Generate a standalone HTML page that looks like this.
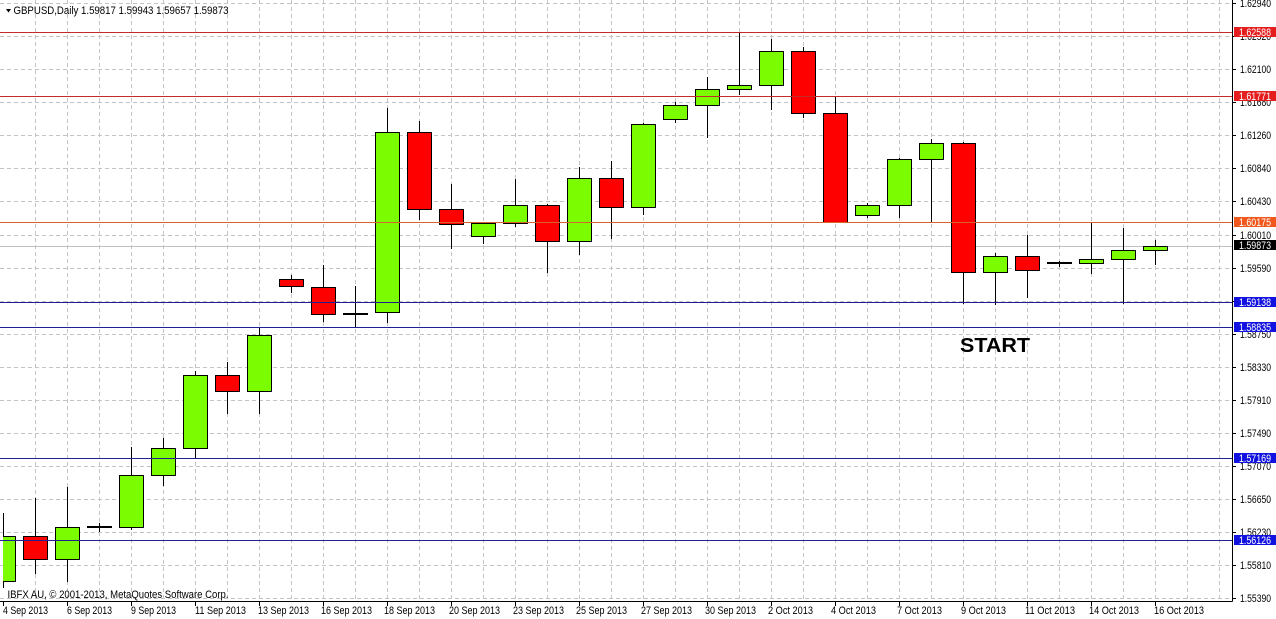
<!DOCTYPE html>
<html><head><meta charset="utf-8"><style>
html,body{margin:0;padding:0;background:#fff;width:1276px;height:619px;overflow:hidden}
svg{display:block}
text{font-family:"Liberation Sans",Arial,sans-serif;font-size:11px;fill:#000}
</style></head><body>
<svg width="1276" height="619" viewBox="0 0 1276 619" xmlns="http://www.w3.org/2000/svg">
<defs><clipPath id="cl"><rect x="3" y="0" width="1229" height="601"/></clipPath></defs>
<rect width="1276" height="619" fill="#fff"/>
<!-- grid -->
<g stroke="#c4c4c4" stroke-width="1" stroke-dasharray="4,3" fill="none">
<path d="M0 3.5H1232M0 36.5H1232M0 69.5H1232M0 102.5H1232M0 135.5H1232M0 168.5H1232M0 201.5H1232M0 235.5H1232M0 268.5H1232M0 301.5H1232M0 334.5H1232M0 367.5H1232M0 400.5H1232M0 433.5H1232M0 466.5H1232M0 499.5H1232M0 532.5H1232M0 565.5H1232M0 598.5H1232"/>
<path d="M35.5 0V601M67.5 0V601M99.5 0V601M131.5 0V601M163.5 0V601M195.5 0V601M227.5 0V601M259.5 0V601M291.5 0V601M323.5 0V601M355.5 0V601M387.5 0V601M419.5 0V601M451.5 0V601M483.5 0V601M515.5 0V601M547.5 0V601M579.5 0V601M611.5 0V601M643.5 0V601M675.5 0V601M707.5 0V601M739.5 0V601M771.5 0V601M803.5 0V601M835.5 0V601M867.5 0V601M899.5 0V601M931.5 0V601M963.5 0V601M995.5 0V601M1027.5 0V601M1059.5 0V601M1091.5 0V601M1123.5 0V601M1155.5 0V601M1187.5 0V601M1219.5 0V601"/>
</g>
<!-- current price line -->
<line x1="0" y1="246.5" x2="1232" y2="246.5" stroke="#c0c0c0" stroke-width="1"/>
<!-- candles -->
<g clip-path="url(#cl)" stroke="#000" stroke-width="1">
<g fill="none">
<path d="M3.5 513V588M35.5 498V574M67.5 487V582M99.5 523V532M131.5 447V530M163.5 438V486M195.5 371V459M227.5 362V414M259.5 327V414M291.5 275V293M323.5 265V322M355.5 286V328M387.5 108V323M419.5 121V220M451.5 184V249M483.5 223V244M515.5 179V227M547.5 204V273M579.5 167V255M611.5 161V239M643.5 123V215M675.5 102V123M707.5 77V138M739.5 32V95M771.5 39V110M803.5 47V118M835.5 97V223M867.5 203V218M899.5 158V218M931.5 139V223M963.5 142V304M995.5 253V305M1027.5 235V298M1059.5 261V267M1091.5 222V274M1123.5 228V304M1155.5 240V265"/>
</g>
<g fill="#7cfc00">
<rect x="-8.5" y="536.5" width="24" height="45"/>
<rect x="55.5" y="527.5" width="24" height="32"/>
<rect x="119.5" y="475.5" width="24" height="52"/>
<rect x="151.5" y="448.5" width="24" height="27"/>
<rect x="183.5" y="375.5" width="24" height="73"/>
<rect x="247.5" y="335.5" width="24" height="56"/>
<rect x="375.5" y="132.5" width="24" height="180"/>
<rect x="471.5" y="223.5" width="24" height="13"/>
<rect x="503.5" y="205.5" width="24" height="18"/>
<rect x="567.5" y="178.5" width="24" height="63"/>
<rect x="631.5" y="124.5" width="24" height="83"/>
<rect x="663.5" y="105.5" width="24" height="14"/>
<rect x="695.5" y="89.5" width="24" height="16"/>
<rect x="727.5" y="85.5" width="24" height="4"/>
<rect x="759.5" y="51.5" width="24" height="34"/>
<rect x="855.5" y="205.5" width="24" height="10"/>
<rect x="887.5" y="159.5" width="24" height="46"/>
<rect x="919.5" y="143.5" width="24" height="16"/>
<rect x="983.5" y="256.5" width="24" height="16"/>
<rect x="1079.5" y="259.5" width="24" height="4"/>
<rect x="1111.5" y="250.5" width="24" height="9"/>
<rect x="1143.5" y="246.5" width="24" height="4"/>
</g>
<g fill="#ff0000">
<rect x="23.5" y="536.5" width="24" height="23"/>
<rect x="215.5" y="375.5" width="24" height="16"/>
<rect x="279.5" y="279.5" width="24" height="7"/>
<rect x="311.5" y="287.5" width="24" height="27"/>
<rect x="407.5" y="132.5" width="24" height="77"/>
<rect x="439.5" y="209.5" width="24" height="15"/>
<rect x="535.5" y="205.5" width="24" height="36"/>
<rect x="599.5" y="178.5" width="24" height="29"/>
<rect x="791.5" y="51.5" width="24" height="62"/>
<rect x="823.5" y="113.5" width="24" height="109"/>
<rect x="951.5" y="143.5" width="24" height="129"/>
<rect x="1015.5" y="256.5" width="24" height="14"/>
</g>
<g fill="none">
<rect x="87.5" y="526.5" width="24" height="1"/>
<rect x="343.5" y="313.5" width="24" height="1"/>
<rect x="1047.5" y="262.5" width="24" height="1"/>
</g>
</g>
<!-- horizontal lines -->
<g stroke-width="1">
<line x1="0" y1="32.5" x2="1232" y2="32.5" stroke="#c42a2a"/>
<line x1="0" y1="96.5" x2="1232" y2="96.5" stroke="#c42a2a"/>
<line x1="0" y1="222.5" x2="1232" y2="222.5" stroke="#d8622a"/>
<line x1="0" y1="302.5" x2="1232" y2="302.5" stroke="#20208e"/>
<line x1="0" y1="327.5" x2="1232" y2="327.5" stroke="#20208e"/>
<line x1="0" y1="458.5" x2="1232" y2="458.5" stroke="#20208e"/>
<line x1="0" y1="540.5" x2="1232" y2="540.5" stroke="#20208e"/>
</g>
<!-- axes -->
<g stroke="#000" stroke-width="1" fill="none">
<path d="M1232.5 0V601.5M0 601.5H1232.5"/>
<path d="M1233 3.5H1236M1233 36.5H1236M1233 69.5H1236M1233 102.5H1236M1233 135.5H1236M1233 168.5H1236M1233 201.5H1236M1233 235.5H1236M1233 268.5H1236M1233 301.5H1236M1233 334.5H1236M1233 367.5H1236M1233 400.5H1236M1233 433.5H1236M1233 466.5H1236M1233 499.5H1236M1233 532.5H1236M1233 565.5H1236M1233 598.5H1236"/>
<path d="M3.5 602V606M67.5 602V606M131.5 602V606M195.5 602V606M259.5 602V606M323.5 602V606M387.5 602V606M451.5 602V606M515.5 602V606M579.5 602V606M643.5 602V606M707.5 602V606M771.5 602V606M835.5 602V606M899.5 602V606M963.5 602V606M1027.5 602V606M1091.5 602V606M1155.5 602V606"/>
</g>
<!-- price tick labels -->
<g>
<text x="1240" y="7" textLength="31" lengthAdjust="spacingAndGlyphs">1.62940</text>
<text x="1240" y="40" textLength="31" lengthAdjust="spacingAndGlyphs">1.62520</text>
<text x="1240" y="73" textLength="31" lengthAdjust="spacingAndGlyphs">1.62100</text>
<text x="1240" y="106" textLength="31" lengthAdjust="spacingAndGlyphs">1.61680</text>
<text x="1240" y="139" textLength="31" lengthAdjust="spacingAndGlyphs">1.61260</text>
<text x="1240" y="172" textLength="31" lengthAdjust="spacingAndGlyphs">1.60840</text>
<text x="1240" y="205" textLength="31" lengthAdjust="spacingAndGlyphs">1.60430</text>
<text x="1240" y="239" textLength="31" lengthAdjust="spacingAndGlyphs">1.60010</text>
<text x="1240" y="272" textLength="31" lengthAdjust="spacingAndGlyphs">1.59590</text>
<text x="1240" y="305" textLength="31" lengthAdjust="spacingAndGlyphs">1.59170</text>
<text x="1240" y="338" textLength="31" lengthAdjust="spacingAndGlyphs">1.58750</text>
<text x="1240" y="371" textLength="31" lengthAdjust="spacingAndGlyphs">1.58330</text>
<text x="1240" y="404" textLength="31" lengthAdjust="spacingAndGlyphs">1.57910</text>
<text x="1240" y="437" textLength="31" lengthAdjust="spacingAndGlyphs">1.57490</text>
<text x="1240" y="470" textLength="31" lengthAdjust="spacingAndGlyphs">1.57070</text>
<text x="1240" y="503" textLength="31" lengthAdjust="spacingAndGlyphs">1.56650</text>
<text x="1240" y="536" textLength="31" lengthAdjust="spacingAndGlyphs">1.56230</text>
<text x="1240" y="569" textLength="31" lengthAdjust="spacingAndGlyphs">1.55810</text>
<text x="1240" y="602" textLength="31" lengthAdjust="spacingAndGlyphs">1.55390</text>
</g>
<!-- line price labels -->
<rect x="1234" y="27" width="42" height="10" fill="#e41e1e"/>
<rect x="1234" y="91" width="42" height="10" fill="#e41e1e"/>
<rect x="1234" y="217" width="42" height="10" fill="#f0581e"/>
<rect x="1234" y="240" width="42" height="10" fill="#000"/>
<rect x="1234" y="297" width="42" height="10" fill="#1212e0"/>
<rect x="1234" y="322" width="42" height="10" fill="#1212e0"/>
<rect x="1234" y="453" width="42" height="10" fill="#1212e0"/>
<rect x="1234" y="535" width="42" height="10" fill="#1212e0"/>
<g style="fill:#fff">
<text x="1239" y="36" textLength="32" lengthAdjust="spacingAndGlyphs" style="fill:#fff">1.62588</text>
<text x="1239" y="100" textLength="32" lengthAdjust="spacingAndGlyphs" style="fill:#fff">1.61771</text>
<text x="1239" y="226" textLength="32" lengthAdjust="spacingAndGlyphs" style="fill:#fff">1.60175</text>
<text x="1239" y="249" textLength="32" lengthAdjust="spacingAndGlyphs" style="fill:#fff">1.59873</text>
<text x="1239" y="306" textLength="32" lengthAdjust="spacingAndGlyphs" style="fill:#fff">1.59138</text>
<text x="1239" y="331" textLength="32" lengthAdjust="spacingAndGlyphs" style="fill:#fff">1.58835</text>
<text x="1239" y="462" textLength="32" lengthAdjust="spacingAndGlyphs" style="fill:#fff">1.57169</text>
<text x="1239" y="544" textLength="32" lengthAdjust="spacingAndGlyphs" style="fill:#fff">1.56126</text>
</g>
<!-- date labels -->
<g>
<text x="3" y="614" textLength="45" lengthAdjust="spacingAndGlyphs">4 Sep 2013</text>
<text x="67" y="614" textLength="45" lengthAdjust="spacingAndGlyphs">6 Sep 2013</text>
<text x="131" y="614" textLength="45" lengthAdjust="spacingAndGlyphs">9 Sep 2013</text>
<text x="195" y="614" textLength="51" lengthAdjust="spacingAndGlyphs">11 Sep 2013</text>
<text x="258" y="614" textLength="51" lengthAdjust="spacingAndGlyphs">13 Sep 2013</text>
<text x="321" y="614" textLength="51" lengthAdjust="spacingAndGlyphs">16 Sep 2013</text>
<text x="384" y="614" textLength="51" lengthAdjust="spacingAndGlyphs">18 Sep 2013</text>
<text x="449" y="614" textLength="51" lengthAdjust="spacingAndGlyphs">20 Sep 2013</text>
<text x="513" y="614" textLength="51" lengthAdjust="spacingAndGlyphs">23 Sep 2013</text>
<text x="576" y="614" textLength="51" lengthAdjust="spacingAndGlyphs">25 Sep 2013</text>
<text x="641" y="614" textLength="51" lengthAdjust="spacingAndGlyphs">27 Sep 2013</text>
<text x="705" y="614" textLength="51" lengthAdjust="spacingAndGlyphs">30 Sep 2013</text>
<text x="768" y="614" textLength="45" lengthAdjust="spacingAndGlyphs">2 Oct 2013</text>
<text x="831" y="614" textLength="45" lengthAdjust="spacingAndGlyphs">4 Oct 2013</text>
<text x="897" y="614" textLength="45" lengthAdjust="spacingAndGlyphs">7 Oct 2013</text>
<text x="961" y="614" textLength="45" lengthAdjust="spacingAndGlyphs">9 Oct 2013</text>
<text x="1025" y="614" textLength="50" lengthAdjust="spacingAndGlyphs">11 Oct 2013</text>
<text x="1089" y="614" textLength="50" lengthAdjust="spacingAndGlyphs">14 Oct 2013</text>
<text x="1154" y="614" textLength="50" lengthAdjust="spacingAndGlyphs">16 Oct 2013</text>
</g>
<!-- header -->
<polygon points="6,9 11,9 8.5,12.5" fill="#000"/>
<text x="13.5" y="14" textLength="215" lengthAdjust="spacingAndGlyphs">GBPUSD,Daily  1.59817 1.59943 1.59657 1.59873</text>
<text x="7.5" y="598" textLength="221" lengthAdjust="spacingAndGlyphs">IBFX AU, © 2001-2013, MetaQuotes Software Corp.</text>
<text x="960" y="352" textLength="70" lengthAdjust="spacingAndGlyphs" style="font-size:20px;font-weight:bold">START</text>
</svg>
</body></html>
